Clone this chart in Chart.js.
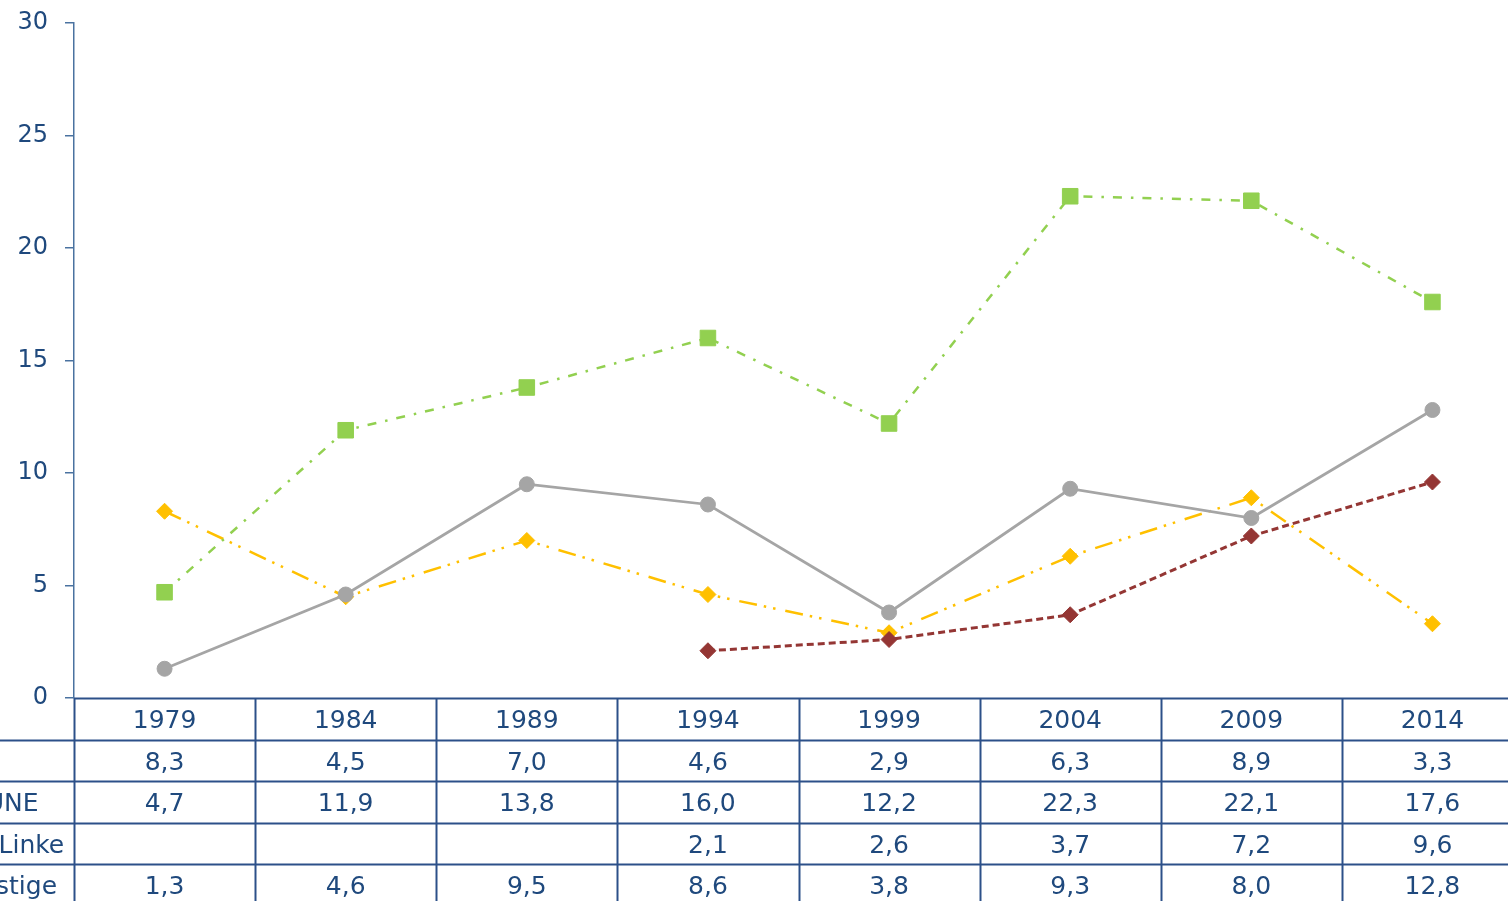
<!DOCTYPE html>
<html>
<head>
<meta charset="utf-8">
<script src="https://cdn.jsdelivr.net/npm/chart.js@4/dist/chart.umd.min.js"></script>
<style>
  html, body { margin: 0; padding: 0; background: #fff; overflow: hidden; }
  #wrap { position: relative; width: 1540px; height: 901px; }
</style>
</head>
<body>
<div id="wrap"><canvas id="chart"></canvas></div>
<script>
// data
const years = ['1979','1984','1989','1994','1999','2004','2009','2014']
const fdp = [8.3, 4.5, 7.0, 4.6, 2.9, 6.3, 8.9, 3.3]
const gruene = [4.7, 11.9, 13.8, 16.0, 12.2, 22.3, 22.1, 17.6]
const linke = [null, null, null, 2.1, 2.6, 3.7, 7.2, 9.6]
const sonstige = [1.3, 4.6, 9.5, 8.6, 3.8, 9.3, 8.0, 12.8]
const rowLabels = ['FDP','GRÜNE','Die Linke','Sonstige']
const yTicks = [0, 5, 10, 15, 20, 25, 30]

const textColor = '#1F497D'
const tableLine = '#2C5089'
const axisLine = '#4A72A0'
const font = 'DejaVu Sans'

function fmt(v){
    if (v === null || v === undefined) return ''
    return v.toFixed(1).replace('.', ',')
}

// data table under the plot, like excel
const tablePlugin = {
    id: 'dataTable',
    afterDraw(chart){
        const c = chart.ctx
        const xs = chart.scales.x
        const area = chart.chartArea
        const colW = xs.getPixelForValue(1) - xs.getPixelForValue(0)
        const rowH = 41.5
        const top = area.bottom
        const rows = [years, fdp.map(fmt), gruene.map(fmt), linke.map(fmt), sonstige.map(fmt)]
        const nRows = rows.length

        c.save()
        c.strokeStyle = tableLine
        c.lineWidth = 2
        // horizontal lines
        for (let r = 0; r <= nRows; r++){
            const y = Math.round(top + r*rowH) + 0.5
            c.beginPath()
            c.moveTo(r === 0 ? area.left : -100, y)
            c.lineTo(chart.width, y)
            c.stroke()
        }
        // vertical lines
        for (let i = 0; i <= years.length; i++){
            const x = Math.round(xs.getPixelForValue(0) - colW/2 + i*colW) + 0.5
            c.beginPath()
            c.moveTo(x, top)
            c.lineTo(x, top + nRows*rowH)
            c.stroke()
        }

        c.fillStyle = textColor
        c.font = '25px "' + font + '"'
        c.textBaseline = 'middle'
        c.textAlign = 'center'
        for (let r = 0; r < nRows; r++){
            const y = top + r*rowH + rowH/2 + 3
            for (let i = 0; i < years.length; i++){
                c.fillText(rows[r][i], xs.getPixelForValue(i), y)
            }
        }
        // row labels (left part is outside the picture)
        c.textAlign = 'left'
        for (let r = 0; r < rowLabels.length; r++){
            const y = top + (r+1)*rowH + rowH/2 + 3
            c.fillText(rowLabels[r], -51, y)
        }
        c.restore()
    }
}

const datasets = [
    {
        label: 'FDP',
        data: fdp,
        borderColor: '#FFC000',
        backgroundColor: '#FFC000',
        borderWidth: 2.5,
        borderDash: [18, 7, 2.5, 7, 2.5, 10],
        pointStyle: 'rectRot',
        pointRadius: 8,
        pointBorderWidth: 1,
        order: 4
    },
    {
        label: 'GRÜNE',
        data: gruene,
        borderColor: '#92D050',
        backgroundColor: '#92D050',
        borderWidth: 2.5,
        borderDash: [9, 9, 2.5, 9],
        pointStyle: 'rect',
        pointRadius: 11,
        pointBorderWidth: 1,
        order: 3
    },
    {
        label: 'Die Linke',
        data: linke,
        borderColor: '#943634',
        backgroundColor: '#943634',
        borderWidth: 3,
        borderDash: [7, 4],
        pointStyle: 'rectRot',
        pointRadius: 8,
        pointBorderWidth: 1,
        order: 2
    },
    {
        label: 'Sonstige',
        data: sonstige,
        borderColor: '#A5A5A5',
        backgroundColor: '#A5A5A5',
        borderWidth: 2.75,
        pointStyle: 'circle',
        pointRadius: 7.5,
        pointBorderWidth: 1,
        order: 1
    }
]

const config = {
    type: 'line',
    data: { labels: years, datasets: datasets },
    options: {
        responsive: true,
        maintainAspectRatio: false,
        animation: false,
        layout: { padding: { left: 0, right: 17, top: 23, bottom: 203 } },
        elements: { line: { tension: 0 } },
        plugins: {
            legend: { display: false },
            tooltip: { enabled: false },
            title: { display: false }
        },
        scales: {
            x: {
                type: 'category',
                offset: true,
                display: false
            },
            y: {
                min: 0,
                max: 30,
                afterBuildTicks: (axis) => { axis.ticks = yTicks.map(v => ({ value: v })) },
                afterFit: (axis) => {
                    axis.width = 74
                    axis.paddingTop = 0
                    axis.paddingBottom = 0
                },
                ticks: {
                    color: textColor,
                    font: { family: font, size: 24 },
                    padding: 17
                },
                grid: {
                    drawOnChartArea: false,
                    drawTicks: true,
                    tickLength: 9,
                    color: axisLine,
                    lineWidth: 1.5
                },
                border: { display: true, color: axisLine, width: 1.5 }
            }
        }
    },
    plugins: [tablePlugin]
}

new Chart(document.getElementById('chart'), config)
</script>
</body>
</html>
